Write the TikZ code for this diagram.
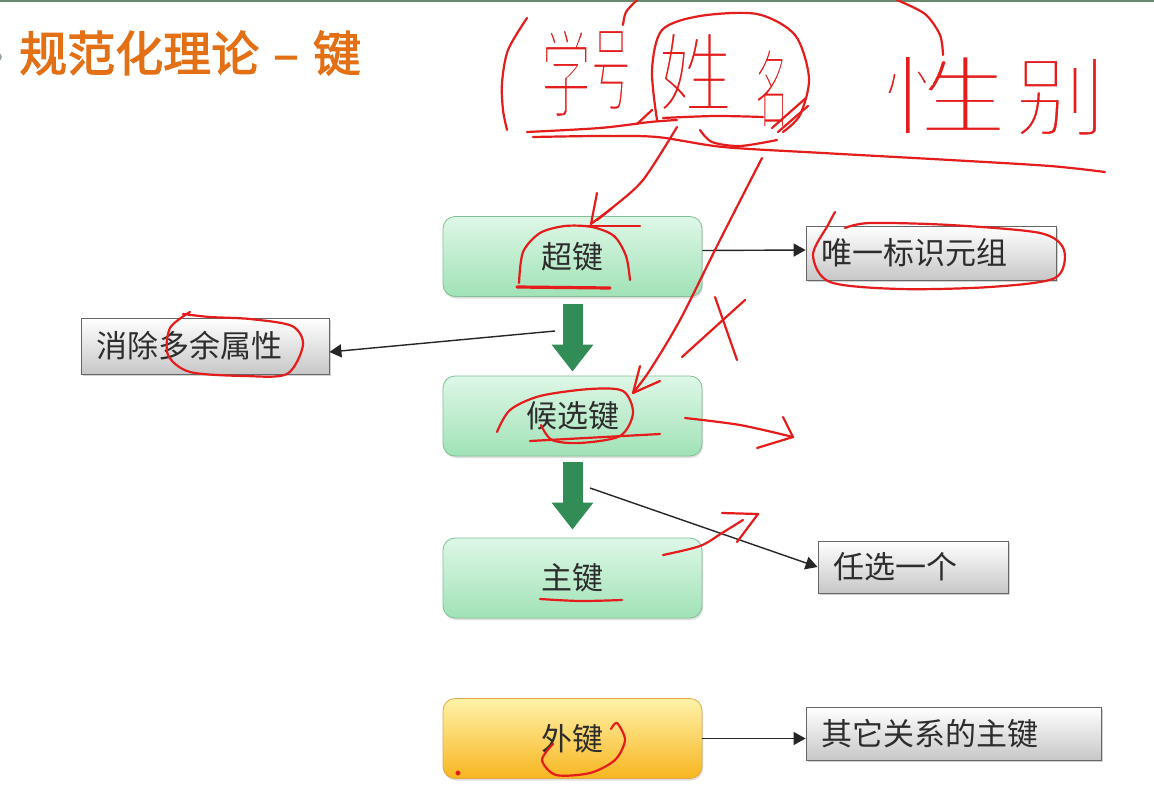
\documentclass[tikz,border=0pt]{standalone}
\usepackage{fontspec}
\newfontfamily\cjk{Noto Sans CJK SC}
\usetikzlibrary{arrows.meta,shadows,calc}
\definecolor{ttl}{RGB}{228,112,22}
\definecolor{topline}{RGB}{105,135,108}
\definecolor{gtop}{RGB}{222,247,231}
\definecolor{gbot}{RGB}{160,226,182}
\definecolor{gbord}{RGB}{128,192,150}
\definecolor{otop}{RGB}{255,242,170}
\definecolor{obot}{RGB}{248,182,32}
\definecolor{obord}{RGB}{226,168,70}
\definecolor{blk}{RGB}{50,140,85}
\definecolor{redpen}{RGB}{228,28,28}
\definecolor{txt}{RGB}{45,45,45}
\tikzset{
  keybox/.style={rounded corners=12pt, draw=gbord, line width=0.8pt,
    top color=gtop, bottom color=gbot, minimum width=259pt, minimum height=80pt,
    text=txt, font=\cjk\fontsize{31}{36}\selectfont,
    drop shadow={shadow xshift=1pt, shadow yshift=-2pt, opacity=0.25}},
  fkbox/.style={keybox, draw=obord, top color=otop, bottom color=obot},
  graybox/.style={draw=black!60, line width=0.8pt, top color=white, bottom color=black!22,
    text=txt, font=\cjk\fontsize{31}{36}\selectfont, align=left, inner xsep=15pt,
    minimum height=#1, anchor=center,
    drop shadow={shadow xshift=2pt, shadow yshift=-2pt, opacity=0.35}},
  conn/.style={draw=black!85, line width=1.4pt, -{Triangle[length=12pt,width=13pt]}},
  blockarr/.style={draw=blk!80!black, line width=20pt, color=blk,
    -{Triangle[length=27pt,width=40pt]}},
  redpen/.style={draw=redpen, line width=2.2pt, line cap=round, line join=round},
  hwtext/.style={text=redpen, inner sep=0pt, font=\cjk\fontsize{58}{60}\selectfont}
}
% handwritten glyph: red glyph, thinned by a white outline stroke laid on top
\newcommand\hwc[6]{%
  \node[hwtext] (#1) at (#2,#3) {\resizebox*{#4pt}{#5pt}{#6}};
  \node[hwtext, text=white] (#1w) at (#2,#3) {\resizebox*{#4pt}{#5pt}{\special{pdf:literal direct 1 Tr 2.6 w}#6\special{pdf:literal direct 0 Tr}}};}
\begin{document}
\begin{tikzpicture}[x=1pt,y=-1pt]
\useasboundingbox (0,0) rectangle (1154,792);
\fill[white] (0,0) rectangle (1154,792);
\fill[topline] (0,0) rectangle (1154,2.5);
\fill[topline!70] (-2,57) circle (4);

% title
\node[anchor=west, text=ttl, inner sep=0pt, font=\cjk\fontsize{48}{52}\selectfont] (title) at (19,53) {\special{pdf:literal direct 2 Tr 1.1 w}规范化理论\hspace{14pt}–\hspace{14pt}键\special{pdf:literal direct 0 Tr}};

% key boxes
\node[keybox] (sk) at (572.5,256.5) {超键};
\node[keybox] (ck) at (572.5,416) {候选键};
\node[keybox] (pk) at (572.5,578) {主键};
\node[fkbox] (fk) at (572.5,738.5) {外键};

% gray boxes
\node[graybox=54pt, text width=220pt] (uk) at (931,253) {唯一标识元组};
\node[graybox=56pt, text width=218pt] (er) at (205,346) {消除多余属性};
\node[graybox=52pt, text width=160pt] (rx) at (913,567) {任选一个};
\node[graybox=53pt, text width=265pt] (ok) at (953.5,733.5) {其它关系的主键};

% block arrows
\draw[blockarr] ([yshift=-7pt]sk.south) -- ([yshift=4pt]ck.north);
\draw[blockarr] ([yshift=-6pt]ck.south) -- ([yshift=8pt]pk.north);

% connectors
\coordinate (c1) at (555,331);
\coordinate (c2) at (590,488);
\draw[conn] ([yshift=6pt]sk.east) -- ([yshift=3pt]uk.west);
\draw[conn] (c1) -- ([yshift=-6pt]er.east);
\draw[conn] (c2) -- (rx.west);
\draw[conn] (fk.east) -- (fk.east -| ok.west);

% ---- red handwritten annotations ----
\hwc{hw1}{566}{73}{50}{90}{学}
\hwc{hw2}{611}{70}{40}{82}{号}
\hwc{hw3}{695}{72}{74}{80}{姓}
\hwc{hw4}{772}{88}{34}{80}{名}
\hwc{hw5}{945}{95}{128}{80}{性}
\hwc{hw6}{1060}{97}{92}{80}{别}

\draw[redpen] plot[smooth] coordinates {(527,18) (508,50) (502,83) (503,110) (507,130)};
\draw[redpen] plot[smooth] coordinates {(623,25) (626,12) (637,0)};
\draw[redpen] plot[smooth] coordinates {(897,0) (925,14) (940,35) (943,55)};
\draw[redpen] plot[smooth] coordinates {(657,120) (652,70) (662,30) (700,16) (757,14) (795,35) (809,78) (800,115) (783,132)};
\draw[redpen] (772,128) -- (806,98);
\draw[redpen] (778,132) -- (808,106);
\draw[redpen] plot[smooth] coordinates {(663,118) (715,116) (763,117)};
\draw[redpen] plot[smooth] coordinates {(700,130) (712,142) (740,146) (777,140)};
\draw[redpen] plot[smooth] coordinates {(527,132) (600,128) (650,122) (677,120)};
\draw[redpen] (637,124) -- (652,110);
\draw[redpen] plot[smooth] coordinates {(533,137) (600,136) (657,137) (723,147) (823,153) (950,160) (1050,166) (1105,172)};

% arrow to super key
\draw[redpen] plot[smooth] coordinates {(677,127) (643,180) (612,208) (597,220)};
\draw[redpen] (597,193) -- (591,224) -- (612,208);
\draw[redpen] plot[smooth] coordinates {(519,283) (523,252) (540,233) (565,226) (592,227) (614,236) (626,256) (630,280)};
\draw[redpen] (585,226) -- (640,226);
\draw[redpen, line width=3.2pt] (517,287) -- (610,288);

% arrow to candidate key
\draw[redpen] plot[smooth] coordinates {(762,158) (720,240) (680,320) (650,370) (633,393)};
\draw[redpen] (640,366) -- (633,393) -- (660,381);
\draw[redpen] (715,297) -- (737,360);
\draw[redpen] (745,300) -- (682,357);

% candidate key loop
\draw[redpen] plot[smooth] coordinates {(497,432) (510,410) (540,396) (590,389) (623,391) (633,413) (620,436) (580,443) (552,440) (541,425)};
\draw[redpen] (530,441) -- (660,434);
\draw[redpen] plot[smooth] coordinates {(685,418) (740,425) (793,437)};
\draw[redpen] (783,417) -- (793,437) -- (757,448);

% primary key marks
\draw[redpen] plot[smooth] coordinates {(663,555) (700,546) (722,533) (743,520)};
\draw[redpen] (722,513) -- (758,514) -- (737,542);
\draw[redpen] plot[smooth] coordinates {(540,599) (580,601) (622,600)};

% foreign key loop
\draw[redpen] plot[smooth] coordinates {(553,744) (542,760) (556,775) (590,773) (615,760) (625,740) (617,723) (611,729)};
\fill[redpen] (458,773) circle (1.5);

% unique tuple loop
\draw[redpen] plot[smooth] coordinates {(835,212) (828,225) (813,255) (830,282) (900,289) (990,287) (1055,278) (1064,250) (1040,233) (950,225) (870,223) (845,228)};

% remove redundant attributes loop
\draw[redpen] plot[smooth] coordinates {(190,312) (170,328) (168,355) (190,372) (245,376) (287,374) (303,345) (292,326) (250,319) (210,317) (183,314)};
\end{tikzpicture}
\end{document}
